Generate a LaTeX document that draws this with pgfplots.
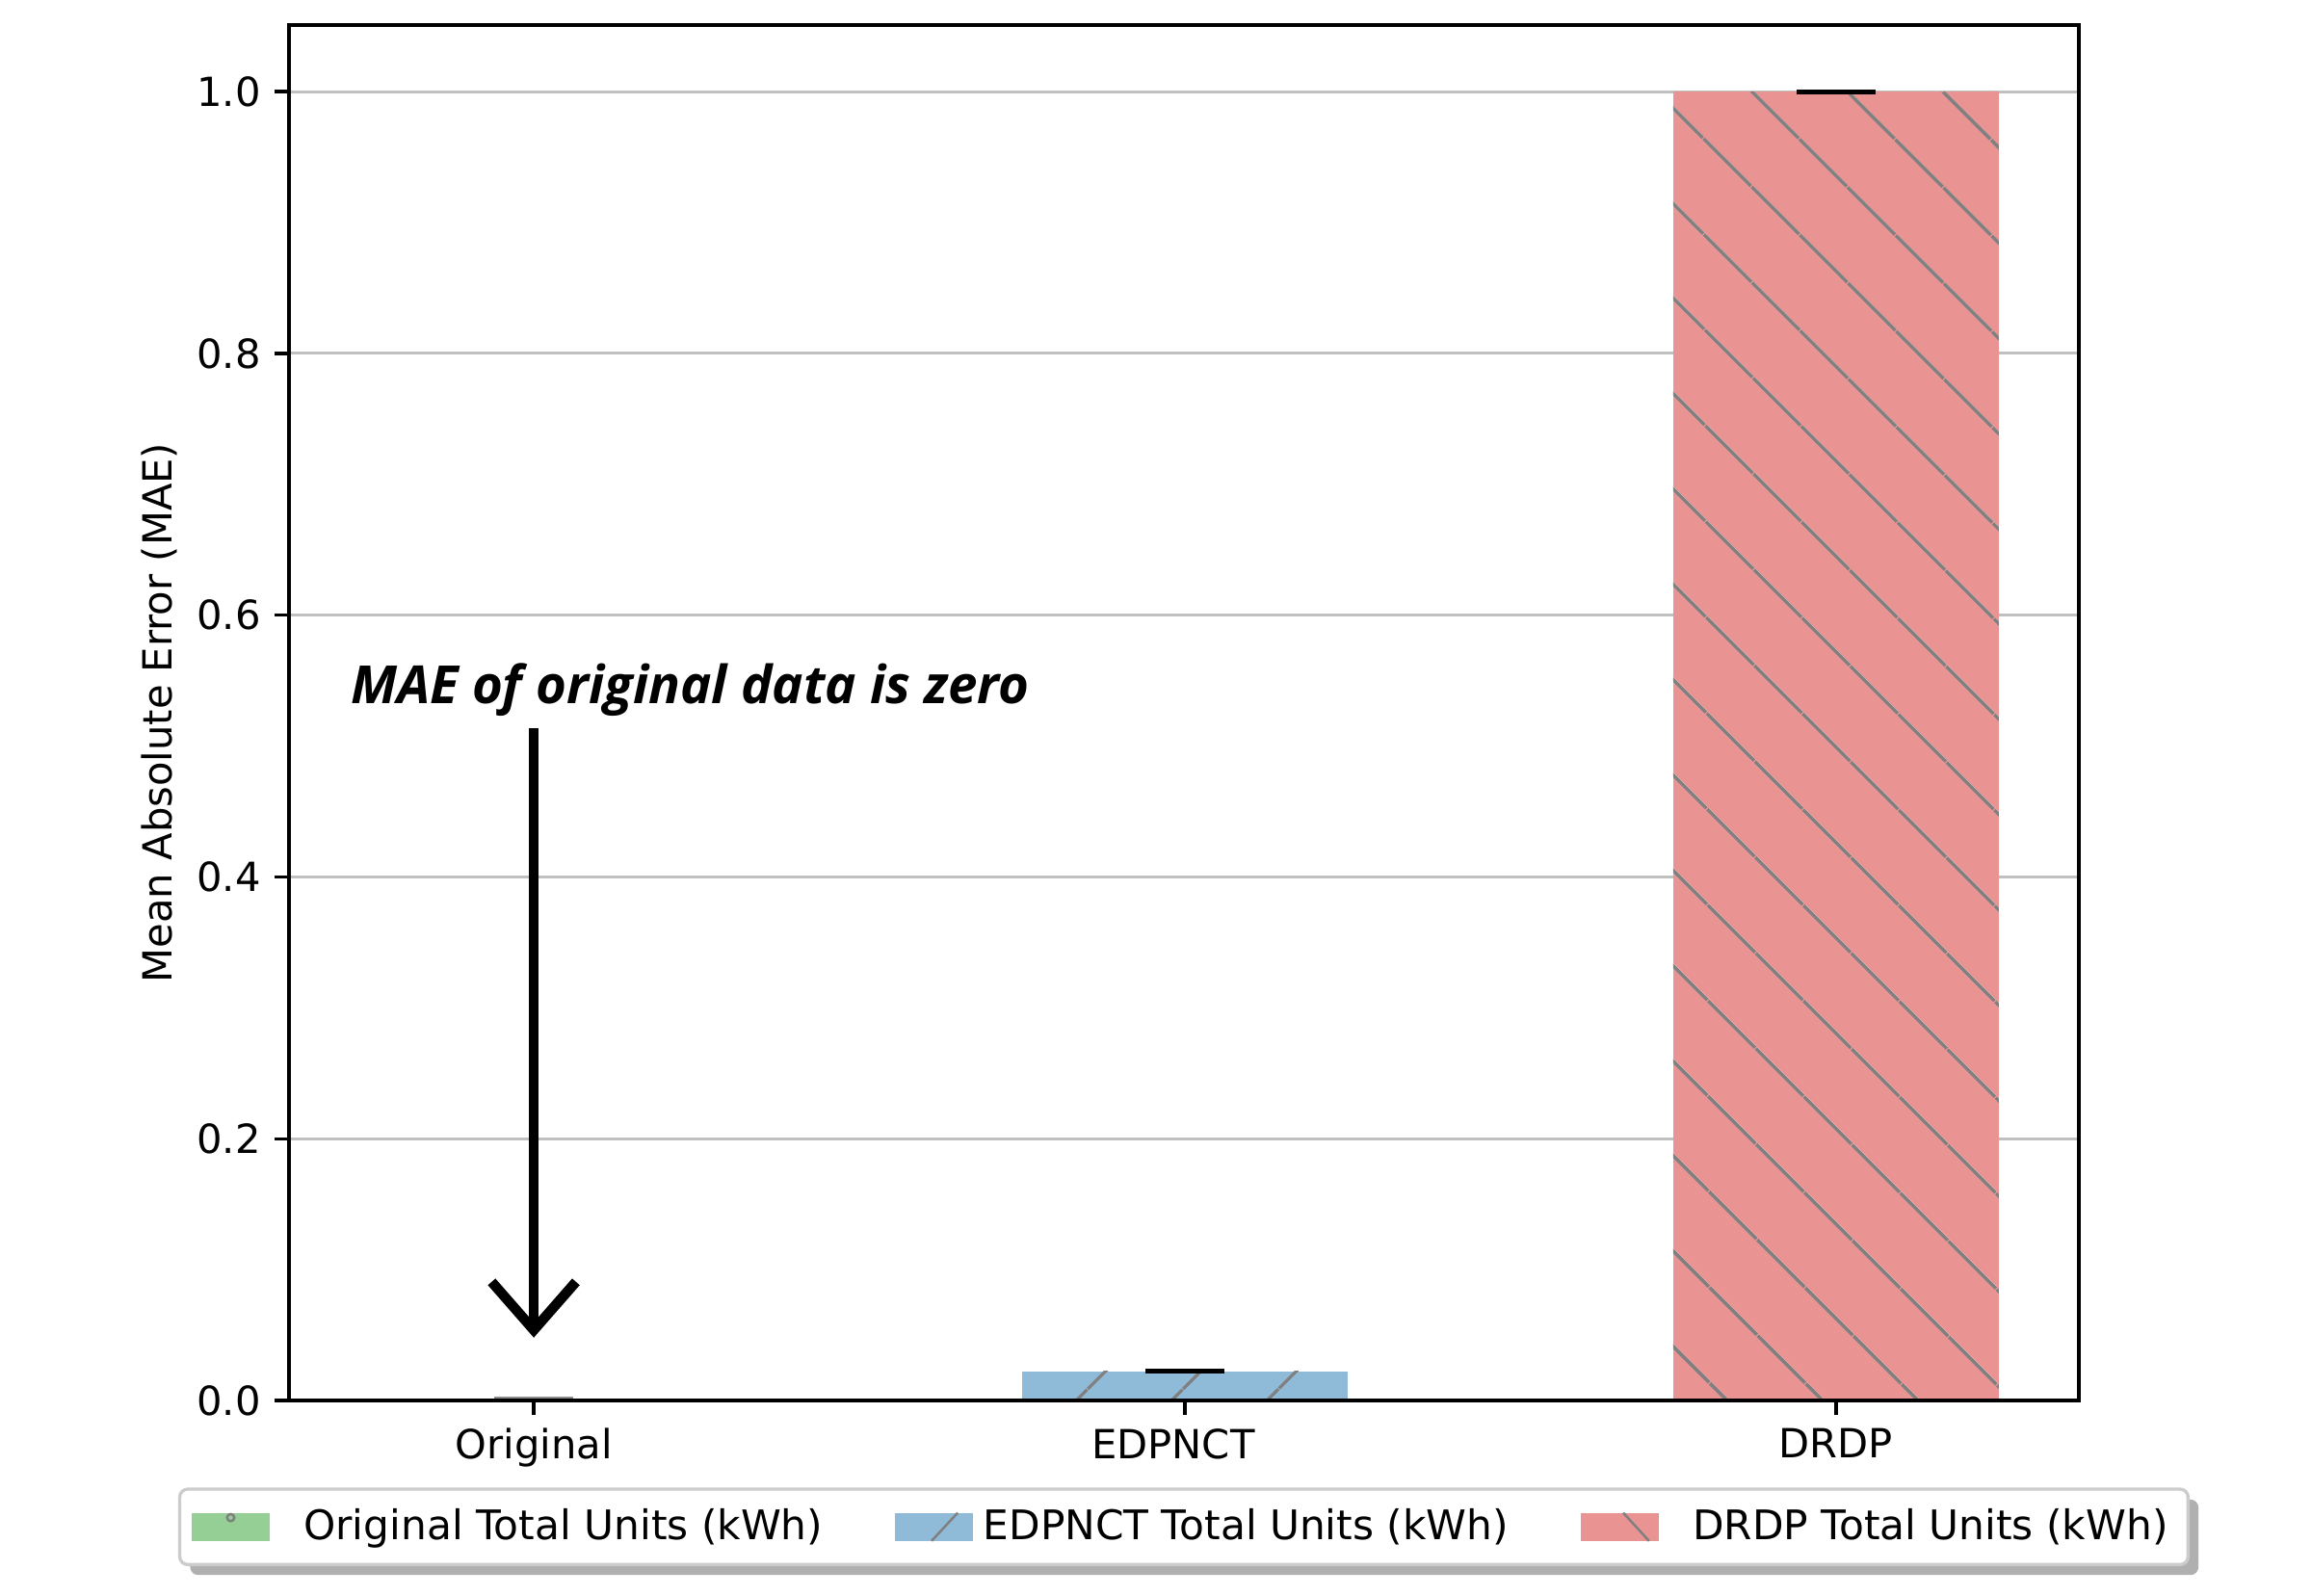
\documentclass[border=0pt]{standalone}
\usepackage{fontspec}
\setmainfont{DejaVu Sans}
\newfontfamily\annfont{Open Sans}
\usepackage{pgfplots}
\pgfplotsset{compat=1.18}
\usetikzlibrary{patterns.meta,shadows,arrows.meta}
\definecolor{cgreen}{HTML}{95CF95}
\definecolor{cblue}{HTML}{8FBBD9}
\definecolor{cred}{HTML}{EA9393}
\definecolor{chatch}{HTML}{808080}
\definecolor{cgrid}{HTML}{C0C0C0}
\pgfplotsset{
  layers/mylayers/.define layer set={axis background,axis grid,main,axis ticks,axis lines,axis tick labels,axis descriptions,axis foreground}{/pgfplots/layers/standard},
}
% legend patches drawn with basic-layer commands (no inherited TikZ pre/post actions)
\newcommand{\legpatch}[2]{%
  \pgfsetcornersarced{\pgfpointorigin}%
  \pgfsetfillcolor{#1}\pgfpathrectangle{\pgfpoint{0pt}{-3.5pt}}{\pgfpoint{19.5pt}{7pt}}\pgfusepath{fill}%
  \pgfpathmoveto{\pgfpoint{0pt}{0pt}}\pgfpathlineto{\pgfpoint{#2}{0pt}}\pgfusepath{}%
  \pgfsetstrokecolor{chatch}\pgfsetlinewidth{0.6pt}}
\begin{document}
\begin{tikzpicture}
\begin{axis}[
  set layers=mylayers,
  at={(0,0)}, anchor=south west,
  scale only axis, width=445.9pt, height=342.7pt,
  xmin=-0.376, xmax=2.373, ymin=0, ymax=1.0508,
  xtick={0,1,2}, xticklabels={Original,{\kern-5.8pt EDPNCT},DRDP},
  ytick={0,0.2,0.4,0.6,0.8,1.0},
  y tick label style={/pgf/number format/fixed, /pgf/number format/fixed zerofill, /pgf/number format/precision=1},
  /pgf/number format/assume math mode=true,
  tick align=outside, tick pos=left,
  major tick length=3.5pt,
  tick style={line width=0.8pt, black},
  axis line style={line width=0.8pt},
  ymajorgrids, major grid style={line width=0.7pt, cgrid},
  ylabel={Mean Absolute Error (MAE)},
  ylabel style={at={(axis description cs:-0.0727,0.5)}, anchor=center},
  ticklabel style={font=\fontsize{10}{12}\selectfont},
  legend columns=3,
  legend cell align=left,
  legend style={at={(0.5,-0.0633)}, anchor=north, draw=black!20, line width=0.8pt, rounded corners=2pt, fill=white,
    drop shadow={shadow xshift=2.6pt, shadow yshift=-2.6pt, fill=black!31, opacity=1},
    font=\fontsize{10.15}{12}\selectfont, inner xsep=3pt, inner ysep=2.8pt,
    /tikz/every even column/.append style={column sep=16pt}},
]
\addplot[ybar, bar width=0.5, bar shift=0pt, fill=cgreen, draw=none,
  legend image code/.code={\begin{pgfscope}\legpatch{cgreen}{25.9pt}%
    \pgfpathcircle{\pgfpoint{9.7pt}{2.3pt}}{0.9pt}\pgfusepath{stroke}\end{pgfscope}}]
  coordinates {(0,0)};
\addlegendentry{Original Total Units (kWh)}
\addplot[ybar, bar width=0.5, bar shift=0pt, fill=cblue, draw=none,
  postaction={pattern={Lines[angle=45,distance=17pt,line width=0.8pt,yshift=-1.85pt]}, pattern color=chatch},
  legend image code/.code={\begin{pgfscope}\legpatch{cblue}{20pt}%
    \pgfpathmoveto{\pgfpoint{9.1pt}{-3.5pt}}\pgfpathlineto{\pgfpoint{15.6pt}{3.5pt}}\pgfusepath{stroke}\end{pgfscope}}]
  coordinates {(1,0.0224)};
\addlegendentry{EDPNCT Total Units (kWh)}
\addplot[ybar, bar width=0.5, bar shift=0pt, fill=cred, draw=none,
  postaction={pattern={Lines[angle=-45,distance=17pt,line width=0.9pt,yshift=-1.4pt]}, pattern color=chatch},
  legend image code/.code={\begin{pgfscope}\legpatch{cred}{25.9pt}%
    \pgfpathmoveto{\pgfpoint{10.6pt}{3.5pt}}\pgfpathlineto{\pgfpoint{17pt}{-3.5pt}}\pgfusepath{stroke}\end{pgfscope}}]
  coordinates {(2,1.0)};
\addlegendentry{DRDP Total Units (kWh)}
\addplot[only marks, mark=-, mark size=9.85pt, mark options={line width=1.2pt, black}, forget plot]
  coordinates {(1,0.0224) (2,1.0)};
\addplot[only marks, mark=-, mark size=9.85pt, mark options={line width=0.5pt, black!45}, forget plot]
  coordinates {(0,0.0025)};
\node[anchor=base west, inner sep=0pt, font=\annfont\fontsize{13.1}{15}\bfseries\itshape\selectfont] at (axis cs:-0.2825,0.5327) {MAE of original data is zero};
\draw[line width=2.5pt, -{Straight Barb[length=12pt,width=21pt]}] (axis cs:0,0.5136) -- (axis cs:0,0.048);
\end{axis}
\path[use as bounding box] (-72pt,-48.72pt) rectangle (504pt,348.96pt);
\end{tikzpicture}
\end{document}
